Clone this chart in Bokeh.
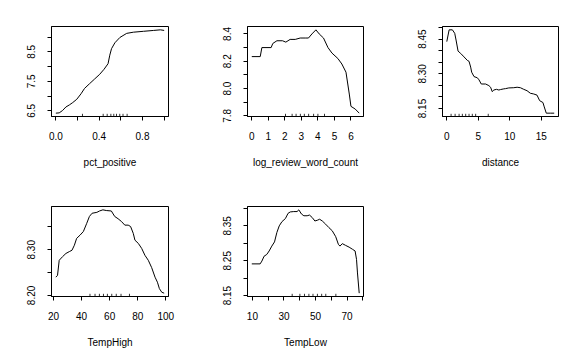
from bokeh.plotting import figure
from bokeh.layouts import column, row
from bokeh.models import Range1d, FixedTicker
from bokeh.embed import file_html
from bokeh.resources import INLINE

# ---------------- data ----------------
pct_x = [0.0, 0.031, 0.062, 0.093, 0.125, 0.156, 0.193, 0.233, 0.265, 0.311, 0.358, 0.405,
         0.445, 0.482, 0.498, 0.514, 0.545, 0.591, 0.654, 0.716, 0.809, 0.903, 0.965, 1.0]
pct_y = [6.42, 6.43, 6.51, 6.63, 6.70, 6.78, 6.89, 7.08, 7.26, 7.42, 7.58, 7.74,
         7.91, 8.10, 8.39, 8.61, 8.81, 8.99, 9.13, 9.17, 9.20, 9.23, 9.25, 9.23]
pct_rug = [0.246, 0.437, 0.474, 0.508, 0.535, 0.56, 0.59, 0.62, 0.658]

lrw_x = [0.0, 0.51, 0.61, 1.17, 1.27, 1.52, 1.86, 2.06, 2.32, 2.63, 2.93, 3.23, 3.43, 3.64,
         3.88, 4.08, 4.34, 4.61, 4.85, 5.21, 5.45, 5.70, 5.90, 6.0, 6.26, 6.5]
lrw_y = [8.234, 8.234, 8.30, 8.30, 8.33, 8.35, 8.35, 8.34, 8.36, 8.36, 8.37, 8.37, 8.37, 8.40,
         8.43, 8.40, 8.37, 8.30, 8.26, 8.22, 8.18, 8.12, 7.96, 7.87, 7.85, 7.82]
lrw_rug = [2.04, 2.44, 2.68, 2.94, 3.18, 3.44, 3.74, 4.0, 4.4]

dist_x = [0, 0.37, 0.89, 1.26, 1.47, 1.79, 2.21, 2.74, 3.26, 3.53, 3.79, 3.95, 4.32, 4.84,
          5.11, 5.47, 6.16, 6.68, 6.95, 7.21, 7.47, 7.89, 8.26, 8.53, 9.05, 9.32, 9.84,
          10.63, 11.16, 11.68, 12.21, 12.74, 13.26, 13.79, 14.32, 14.74, 15.26, 15.47,
          15.79, 16.42, 17.05]
dist_y = [8.439, 8.490, 8.490, 8.475, 8.446, 8.398, 8.388, 8.373, 8.358, 8.354, 8.329,
          8.307, 8.288, 8.283, 8.274, 8.256, 8.256, 8.249, 8.242, 8.223, 8.230, 8.233,
          8.230, 8.232, 8.235, 8.236, 8.239, 8.240, 8.242, 8.240, 8.233, 8.227, 8.216,
          8.213, 8.208, 8.184, 8.176, 8.157, 8.130, 8.130, 8.130]
dist_rug = [0.68, 1.32, 1.95, 2.47, 3.0, 3.53, 4.05, 4.58, 6.58]

th_x = [21.7, 22.9, 24.1, 26.5, 28.9, 31.3, 33.2, 34.9, 36.5, 38.9, 41.3, 43.7, 45.6, 47.5,
        50.9, 52.8, 55.2, 57.6, 61.2, 63.6, 66.0, 68.4, 70.8, 73.2, 74.9, 76.8, 78.0,
        80.4, 82.8, 85.1, 87.5, 89.9, 92.3, 94.0, 95.4, 97.1, 98.8]
th_y = [8.240, 8.244, 8.277, 8.285, 8.292, 8.296, 8.299, 8.310, 8.325, 8.332, 8.340, 8.358,
        8.373, 8.380, 8.382, 8.385, 8.3875, 8.386, 8.385, 8.373, 8.368, 8.362, 8.354,
        8.354, 8.351, 8.336, 8.321, 8.314, 8.303, 8.288, 8.277, 8.261, 8.240, 8.229,
        8.215, 8.207, 8.205]
th_rug = [46.0, 49.6, 52.7, 55.6, 58.4, 61.5, 64.7, 68.1, 74.1]

tl_x = [9.6, 14.9, 16.0, 17.4, 19.1, 20.6, 22.3, 24.0, 25.5, 27.0, 28.7, 30.9, 32.6, 34.0,
        36.2, 38.3, 39.4, 41.1, 42.6, 44.7, 46.2, 47.9, 49.6, 51.1, 52.6, 54.3, 56.4,
        58.5, 60.6, 62.8, 64.5, 65.5, 67.0, 69.1, 71.3, 73.4, 75.1, 76.0, 76.6, 77.7]
tl_y = [8.241, 8.241, 8.249, 8.263, 8.268, 8.278, 8.292, 8.304, 8.331, 8.350, 8.362, 8.371,
        8.386, 8.390, 8.391, 8.391, 8.396, 8.384, 8.379, 8.379, 8.381, 8.374, 8.364,
        8.366, 8.369, 8.364, 8.355, 8.345, 8.336, 8.319, 8.297, 8.292, 8.299, 8.294,
        8.289, 8.283, 8.278, 8.254, 8.215, 8.157]
tl_rug = [35.2, 40.1, 43.0, 45.8, 48.4, 51.2, 53.9, 56.5, 62.9]

# ticks and their labels ("" = tick without label)
pct_xt = [0, 0.2, 0.4, 0.6, 0.8, 1.0]
pct_xl = ["0.0", "", "0.4", "", "0.8", ""]
pct_yt = [6.5, 7.0, 7.5, 8.0, 8.5, 9.0]
pct_yl = ["6.5", "", "7.5", "", "8.5", ""]

lrw_xt = [0, 1, 2, 3, 4, 5, 6]
lrw_xl = ["0", "1", "2", "3", "4", "5", "6"]
lrw_yt = [7.8, 7.9, 8.0, 8.1, 8.2, 8.3, 8.4]
lrw_yl = ["7.8", "", "8.0", "", "8.2", "", "8.4"]

dist_xt = [0, 5, 10, 15]
dist_xl = ["0", "5", "10", "15"]
dist_yt = [8.15, 8.20, 8.25, 8.30, 8.35, 8.40, 8.45, 8.50]
dist_yl = ["8.15", "", "", "8.30", "", "", "8.45", ""]

th_xt = [20, 40, 60, 80, 100]
th_xl = ["20", "40", "60", "80", "100"]
th_yt = [8.20, 8.25, 8.30, 8.35]
th_yl = ["8.20", "", "8.30", ""]

tl_xt = [10, 20, 30, 40, 50, 60, 70, 80]
tl_xl = ["10", "", "30", "", "50", "", "70", ""]
tl_yt = [8.15, 8.20, 8.25, 8.30, 8.35, 8.40]
tl_yl = ["8.15", "", "8.25", "", "8.35", ""]

FONT = "Liberation Sans"


def padded(vals):
    lo, hi = min(vals), max(vals)
    d = (hi - lo) * 0.04
    return Range1d(lo - d, hi + d)


def panel(xs, ys, rug, name, xt, xl, yt, yl, fw, left, right, top, bottom):
    xr = padded(xs)
    yr = padded(ys)
    p = figure(width=left + fw + right, height=top + 90 + bottom,
               frame_width=fw, frame_height=90,
               x_range=xr, y_range=yr, output_backend="svg", toolbar_location=None,
               min_border_left=left, min_border_right=right,
               min_border_top=top, min_border_bottom=bottom)
    p.background_fill_color = "white"
    p.border_fill_color = "white"
    p.outline_line_color = "black"
    p.outline_line_width = 1
    p.grid.visible = False
    p.line(xs, ys, line_color="black", line_width=1)
    y0 = yr.start
    y1 = yr.start + 0.03 * (yr.end - yr.start)
    p.segment(x0=rug, x1=rug, y0=[y0] * len(rug), y1=[y1] * len(rug),
              line_color="black", line_width=0.8)

    for ax, ticks, labels in ((p.xaxis[0], xt, xl), (p.yaxis[0], yt, yl)):
        ax.ticker = FixedTicker(ticks=ticks, minor_ticks=[])
        ax.major_label_overrides = {t: l for t, l in zip(ticks, labels)}
        ax.major_tick_out = 4
        ax.major_tick_in = 0
        ax.minor_tick_out = 0
        ax.minor_tick_in = 0
        ax.axis_line_color = "black"
        ax.major_tick_line_color = "black"
        ax.major_label_text_font = FONT
        ax.major_label_text_font_size = "10px"
        ax.major_label_text_color = "black"
    p.xaxis.major_label_standoff = 11
    p.yaxis.major_label_standoff = 12
    p.yaxis.major_label_orientation = "vertical"
    p.xaxis.axis_label = name
    p.xaxis.axis_label_text_font = FONT
    p.xaxis.axis_label_text_font_size = "10px"
    p.xaxis.axis_label_text_font_style = "normal"
    p.xaxis.axis_label_text_color = "black"
    p.xaxis.axis_label_standoff = 14
    return p


f1 = panel(pct_x, pct_y, pct_rug, "pct_positive", pct_xt, pct_xl, pct_yt, pct_yl,
           117, 51, 35, 26, 72)
f2 = panel(lrw_x, lrw_y, lrw_rug, "log_review_word_count", lrw_xt, lrw_xl, lrw_yt, lrw_yl,
           116, 44, 35, 26, 72)
f3 = panel(dist_x, dist_y, dist_rug, "distance", dist_xt, dist_xl, dist_yt, dist_yl,
           116, 44, 10, 26, 72)
f4 = panel(th_x, th_y, th_rug, "TempHigh", th_xt, th_xl, th_yt, th_yl,
           117, 51, 35, 18, 55)
f5 = panel(tl_x, tl_y, tl_rug, "TempLow", tl_xt, tl_xl, tl_yt, tl_yl,
           116, 44, 35, 18, 55)

layout = column(row(f1, f2, f3), row(f4, f5))
open("out.html", "w").write(file_html(layout, INLINE))
